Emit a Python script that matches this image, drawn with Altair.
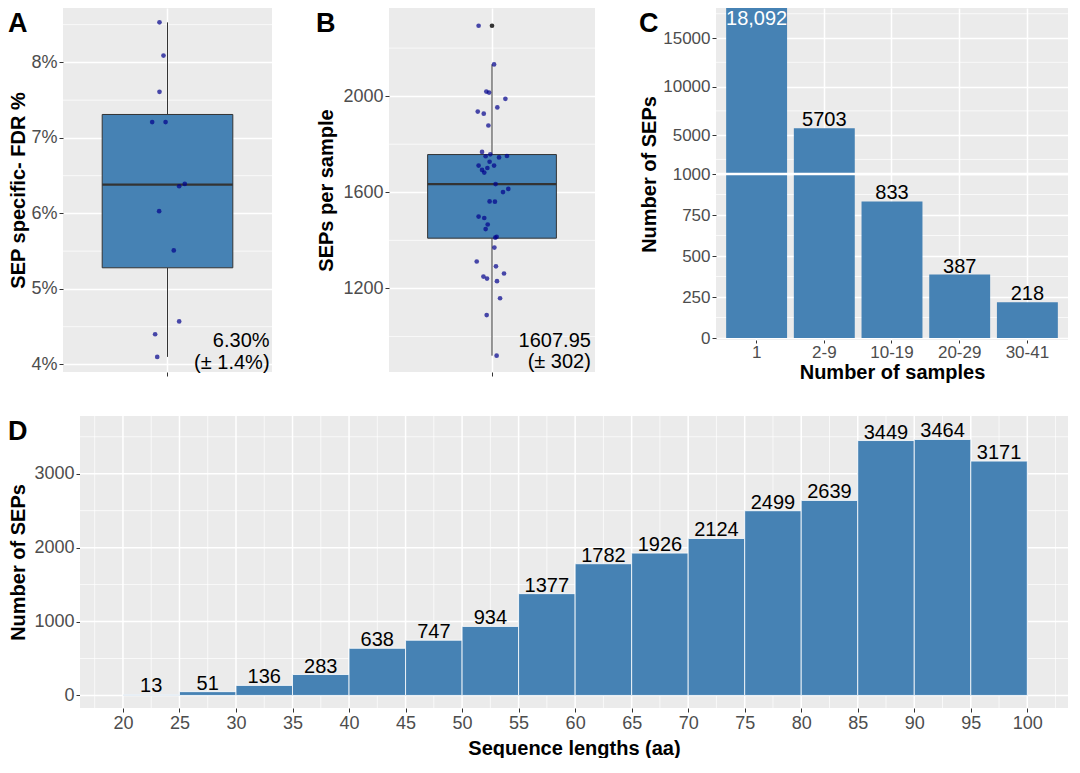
import altair as alt
import pandas as pd

FONT = "Liberation Sans"
BG = "#EBEBEB"
BAR = "#4682B4"
DARK = "#333333"
PT = "#00008B"
LBL = "#4D4D4D"

panel_letters = ["A", "B", "C", "D"]

# ---------------- Panel A: SEP specific FDR %
a_fdr = [8.53, 8.09, 7.61, 7.21, 7.21, 6.39, 6.36, 6.03, 5.51, 4.57, 4.40, 4.10]
a_jit = [0.954, 0.977, 0.954, 0.912, 0.989, 1.099, 1.067, 0.952, 1.036, 1.067, 0.929, 0.941]
a_box = [4.10, 5.28, 6.38, 7.31, 8.53]  # lower whisker, Q1, median, Q3, upper whisker
a_out = []
a_major = [4, 5, 6, 7, 8]
a_minor = [4.5, 5.5, 6.5, 7.5, 8.5]
a_domain = [3.9, 8.72]
a_note = ["6.30%", "(± 1.4%)"]
a_note_x = 1.586
a_note_y = [4.226, 3.945]

# ---------------- Panel B: SEPs per sample
b_sep = [2293, 2132, 2019, 2015, 1989, 1936, 1927, 1953, 1878, 1768, 1758, 1750, 1745, 1751,
         1711, 1727, 1711, 1701, 1693, 1682, 1634, 1614, 1601, 1562, 1561, 1499, 1493, 1466,
         1447, 1415, 1411, 1370, 1312, 1292, 1249, 1241, 1262, 1230, 1159, 1089, 920]
b_jit = [0.922, 1.012, 0.967, 0.983, 1.078, 0.917, 0.952, 1.031, 0.979, 0.942, 0.990, 0.963, 1.041, 1.087,
         0.922, 0.986, 1.012, 0.973, 0.942, 0.955, 1.021, 1.095, 1.064, 0.986, 1.017, 0.922, 0.955, 0.975,
         0.963, 1.027, 1.019, 1.014, 0.911, 1.023, 0.950, 0.971, 1.070, 1.029, 1.047, 0.969, 1.027]
b_box = [920, 1409, 1634, 1757, 2132]
b_out = [2293]
b_major = [1200, 1600, 2000]
b_minor = [1000, 1400, 1800, 2200]
b_domain = [852, 2367]
b_note = ["1607.95", "(± 302)"]
b_note_x = 1.576
b_note_y = [958, 870]

# ---------------- Panel C: number of samples
c_cats = ["1", "2-9", "10-19", "20-29", "30-41"]
c_counts = [18092, 5703, 833, 387, 218]
c_labels = ["18,092", "5703", "833", "387", "218"]
c_inside = [True, False, False, False, False]
c_major = [0, 250, 500, 750, 1000, 5000, 10000, 15000]
c_minor = [125, 375, 625, 875, 2500, 7500, 12500, 17500]
c_break = [1000]
c_domain = [-12, 1000, 18092]

# ---------------- Panel D: sequence lengths
d_lo = [20, 25, 30, 35, 40, 45, 50, 55, 60, 65, 70, 75, 80, 85, 90, 95]
d_hi = [25, 30, 35, 40, 45, 50, 55, 60, 65, 70, 75, 80, 85, 90, 95, 100]
d_counts = [13, 51, 136, 283, 638, 747, 934, 1377, 1782, 1926, 2124, 2499, 2639, 3449, 3464, 3171]
d_major_x = [20, 25, 30, 35, 40, 45, 50, 55, 60, 65, 70, 75, 80, 85, 90, 95, 100]
d_minor_x = [17.5, 22.5, 27.5, 32.5, 37.5, 42.5, 47.5, 52.5, 57.5, 62.5, 67.5, 72.5, 77.5,
             82.5, 87.5, 92.5, 97.5, 102.5]
d_major_y = [0, 1000, 2000, 3000]
d_minor_y = [500, 1500, 2500, 3500]
d_xdomain = [16.2, 103.6]
d_ydomain = [-170, 3781]


def hgrid(vals, scale, w=0.7, axis=None):
    enc = alt.Y("v:Q", scale=scale, axis=axis) if axis is not None else alt.Y("v:Q", scale=scale)
    return alt.Chart(pd.DataFrame({"v": vals})).mark_rule(color="white", strokeWidth=w).encode(y=enc)


def letter(t, dx):
    return alt.Chart(pd.DataFrame({"t": [t]})).mark_text(
        align="left", baseline="top", font=FONT, fontSize=27, fontWeight="bold", color="black"
    ).encode(text="t:N", x=alt.value(dx), y=alt.value(3))


def yaxis(values, title, extent, tpad, fs=18, **kw):
    return alt.Axis(values=values, title=title, minExtent=extent, maxExtent=extent, titlePadding=tpad,
                    labelFontSize=fs, tickSize=4, labelPadding=2, titleFontSize=20, **kw)


def box_panel(lt, dx, jit, vals, stats, outliers, major, minor, domain, ytitle, yext, ytpad,
              axis_kw, note, note_x, note_y, w, h):
    xs = alt.Scale(domain=[0.4, 1.6], nice=False, zero=False)
    ys = alt.Scale(domain=domain, nice=False, zero=False)
    xax = alt.Axis(values=[1], labels=False, title="", tickSize=4, grid=True)
    yax = yaxis(major, ytitle, yext, ytpad, grid=True, **axis_kw)
    st = pd.DataFrame({"xc": [1.0], "x1": [1.0 - 0.375], "x2": [1.0 + 0.375],
                       "lo": [stats[0]], "q1": [stats[1]], "med": [stats[2]],
                       "q3": [stats[3]], "hi": [stats[4]]})
    base = alt.Chart(st)
    grid = hgrid(minor, ys, axis=yax)
    wl = base.mark_rule(color=DARK, strokeWidth=1).encode(
        x=alt.X("xc:Q", scale=xs, axis=xax), y=alt.Y("lo:Q", scale=ys), y2="q1:Q")
    wh = base.mark_rule(color=DARK, strokeWidth=1).encode(
        x=alt.X("xc:Q", scale=xs), y=alt.Y("q3:Q", scale=ys), y2="hi:Q")
    box = base.mark_rect(fill=BAR, stroke=DARK, strokeWidth=1).encode(
        x=alt.X("x1:Q", scale=xs), x2="x2:Q", y=alt.Y("q1:Q", scale=ys), y2="q3:Q")
    med = base.mark_rule(color=DARK, strokeWidth=2.2).encode(
        x=alt.X("x1:Q", scale=xs), x2="x2:Q", y=alt.Y("med:Q", scale=ys))
    layers = [grid, wl, wh, box, med]
    if outliers:
        layers.append(alt.Chart(pd.DataFrame({"x": [1.0] * len(outliers), "y": outliers})).mark_circle(
            size=22, color=DARK, opacity=1).encode(
            x=alt.X("x:Q", scale=xs), y=alt.Y("y:Q", scale=ys)))
    pts = alt.Chart(pd.DataFrame({"x": jit, "y": vals})).mark_circle(
        size=22, color=PT, opacity=0.7).encode(
        x=alt.X("x:Q", scale=xs), y=alt.Y("y:Q", scale=ys))
    notes = alt.Chart(pd.DataFrame({"x": [note_x] * len(note), "y": note_y, "t": note})).mark_text(
        align="right", baseline="alphabetic", font=FONT, fontSize=20, color="black").encode(
        x=alt.X("x:Q", scale=xs), y=alt.Y("y:Q", scale=ys), text="t:N")
    layers += [pts, notes, letter(lt, dx)]
    return alt.layer(*layers).properties(width=w, height=h)


HAB = 364
A = box_panel(panel_letters[0], -55, a_jit, a_fdr, a_box, a_out, a_major, a_minor, a_domain,
              "SEP specific- FDR %", 33, 2, {"labelExpr": "datum.value + '%'"},
              a_note, a_note_x, a_note_y, 209, HAB)
B = box_panel(panel_letters[1], -73, b_jit, b_sep, b_box, b_out, b_major, b_minor, b_domain,
              "SEPs per sample", 46, 7, {"format": "d"},
              b_note, b_note_x, b_note_y, 206, HAB)

# ---- C (broken y axis: piecewise linear scale)
HC = 332
cxs = alt.Scale(domain=c_cats, paddingInner=0.1, paddingOuter=0.15)
cys = alt.Scale(domain=c_domain, range=[HC, HC / 2, 0], nice=False, zero=False)
cdf = pd.DataFrame({"cat": c_cats, "n": c_counts, "lab": c_labels, "inside": c_inside})
c_grid = hgrid(c_minor, cys, axis=yaxis(c_major, "Number of SEPs", 54, 3, fs=17, format="d", grid=True))
c_bars = alt.Chart(cdf).mark_bar(color=BAR).encode(
    x=alt.X("cat:N", scale=cxs, axis=alt.Axis(title="Number of samples", labelAngle=0, tickSize=3,
                                              labelPadding=1, labelFontSize=17, titleFontSize=20,
                                              titlePadding=2, grid=True)),
    y=alt.Y("n:Q", scale=cys),
    y2=alt.datum(0))
c_brk = hgrid(c_break, cys, w=2.5)
c_out_lab = alt.Chart(cdf).transform_filter("!datum.inside").mark_text(
    baseline="alphabetic", dy=-2, font=FONT, fontSize=20, color="black").encode(
    x=alt.X("cat:N", scale=cxs), y=alt.Y("n:Q", scale=cys), text="lab:N")
c_in_lab = alt.Chart(cdf).transform_filter("datum.inside").mark_text(
    baseline="top", dy=1, font=FONT, fontSize=20, color="white").encode(
    x=alt.X("cat:N", scale=cxs), y=alt.Y("n:Q", scale=cys), text="lab:N")
C = alt.layer(c_grid, c_bars, c_brk, c_out_lab, c_in_lab,
              letter(panel_letters[2], -77)).properties(width=352, height=HC)

# ---- D (group starts SHIFT px left of the data area, so it lines up with panel A)
SHIFT = 17
DW = 988
HD = 292
dxs = alt.Scale(domain=d_xdomain, range=[SHIFT, SHIFT + DW], nice=False, zero=False)
dys = alt.Scale(domain=d_ydomain, nice=False, zero=False)
ddf = pd.DataFrame({"lo": d_lo, "hi": d_hi, "n": d_counts})
ddf["mid"] = (ddf["lo"] + ddf["hi"]) / 2
ddf["lab"] = ddf["n"].astype(str)

d_bg = alt.Chart(pd.DataFrame({"x1": [d_xdomain[0]], "x2": [d_xdomain[1]],
                               "y1": [d_ydomain[0]], "y2": [d_ydomain[1]]})).mark_rect(color=BG).encode(
    x=alt.X("x1:Q", scale=dxs, axis=alt.Axis(values=d_major_x, title="Sequence lengths (aa)", tickSize=4,
                                             labelPadding=2, labelFontSize=18, titleFontSize=20,
                                             titlePadding=6, grid=False)),
    x2="x2:Q",
    y=alt.Y("y1:Q", scale=dys, axis=yaxis(d_major_y, "Number of SEPs", 46, 6, format="d",
                                          grid=False, offset=-SHIFT)),
    y2="y2:Q")


def d_hrules(vals, w):
    df = pd.DataFrame({"v": vals, "x1": [d_xdomain[0]] * len(vals), "x2": [d_xdomain[1]] * len(vals)})
    return alt.Chart(df).mark_rule(color="white", strokeWidth=w).encode(
        x=alt.X("x1:Q", scale=dxs), x2="x2:Q", y=alt.Y("v:Q", scale=dys))


def d_vrules(vals, w):
    return alt.Chart(pd.DataFrame({"v": vals})).mark_rule(color="white", strokeWidth=w).encode(
        x=alt.X("v:Q", scale=dxs))


d_bars = alt.Chart(ddf).mark_bar(color=BAR, stroke="white", strokeWidth=0.8).encode(
    x=alt.X("lo:Q", scale=dxs), x2="hi:Q",
    y=alt.Y("n:Q", scale=dys), y2=alt.datum(0))
d_lab = alt.Chart(ddf).mark_text(baseline="alphabetic", dy=-2, font=FONT, fontSize=20, color="black").encode(
    x=alt.X("mid:Q", scale=dxs), y=alt.Y("n:Q", scale=dys), text="lab:N")
D = alt.layer(d_bg, d_hrules(d_minor_y, 0.7), d_vrules(d_minor_x, 0.7),
              d_hrules(d_major_y, 1.5), d_vrules(d_major_x, 1.5), d_bars, d_lab,
              letter(panel_letters[3], -55)).properties(
    width=SHIFT + DW, height=HD, view=alt.ViewBackground(fill="white", strokeWidth=0))

top = alt.hconcat(A, B, C, spacing=43)
chart = alt.vconcat(top, D, spacing=33).properties(padding=0).configure(padding=0).configure_view(
    fill=BG, strokeWidth=0
).configure_axis(
    domain=False, gridColor="white", gridWidth=1.5, tickColor=DARK, labelColor=LBL,
    titleColor="black", labelFont=FONT, titleFont=FONT, titleFontWeight="bold"
)

chart.save("out.html", embed_options={"renderer": "svg", "actions": False})
